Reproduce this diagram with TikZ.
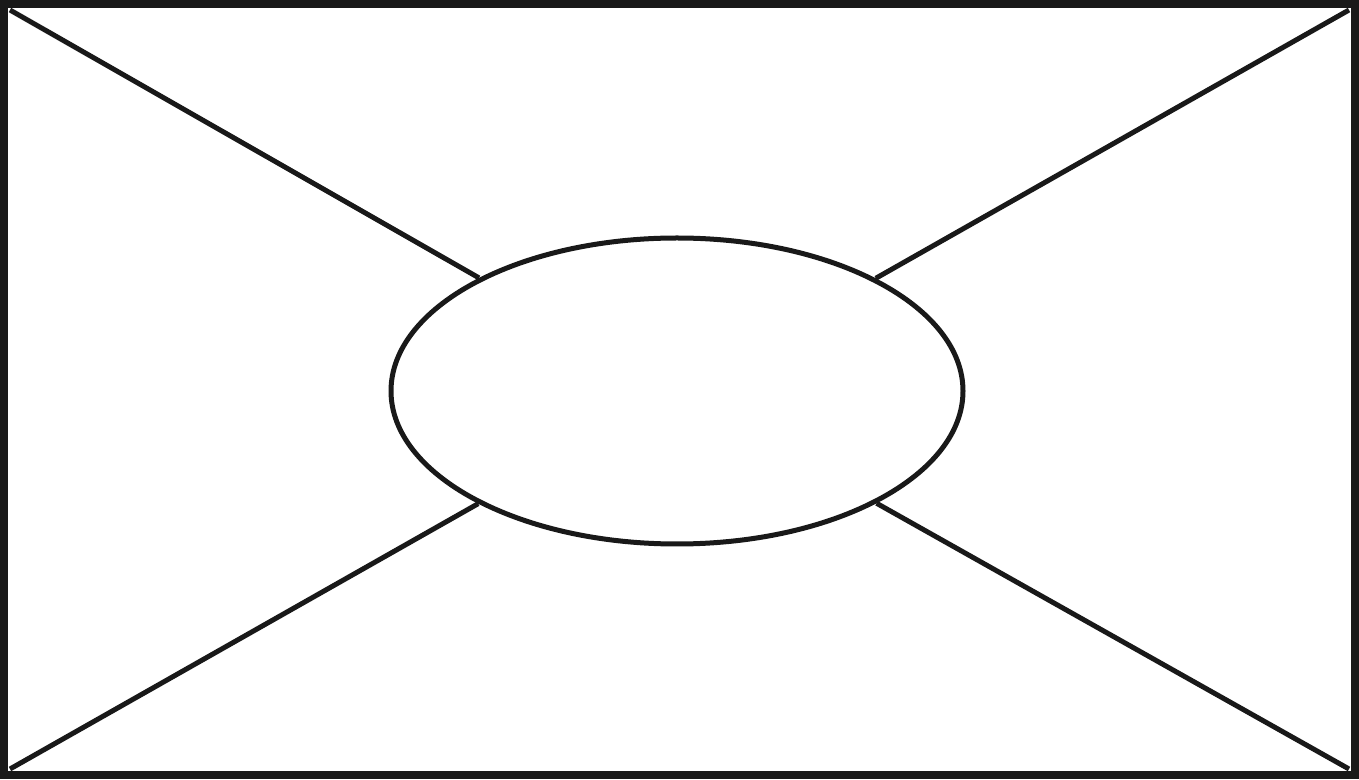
\documentclass[tikz,border=0pt]{standalone}
\usepackage{tikz}
\usetikzlibrary{shapes.geometric}

\begin{document}
\begin{tikzpicture}[
  frame/.style={draw=black!90, line width=0.08cm},
  hub/.style={ellipse, draw=black!90, line width=0.05cm, minimum width=5.72cm, minimum height=3.06cm, inner sep=0pt},
  spoke/.style={draw=black!90, line width=0.05cm}
]
  \useasboundingbox (0,0) rectangle (13.59,7.79);
  \draw[frame] (0.04,0.04) rectangle (13.55,7.75);
  \node[hub] (ell) at (6.77, 3.88) {};

  \coordinate (tl) at (0.1, 7.69);
  \coordinate (tr) at (13.49, 7.69);
  \coordinate (bl) at (0.1, 0.1);
  \coordinate (br) at (13.49, 0.1);

  \draw[spoke] (tl) -- (ell);
  \draw[spoke] (tr) -- (ell);
  \draw[spoke] (bl) -- (ell);
  \draw[spoke] (br) -- (ell);
\end{tikzpicture}
\end{document}
